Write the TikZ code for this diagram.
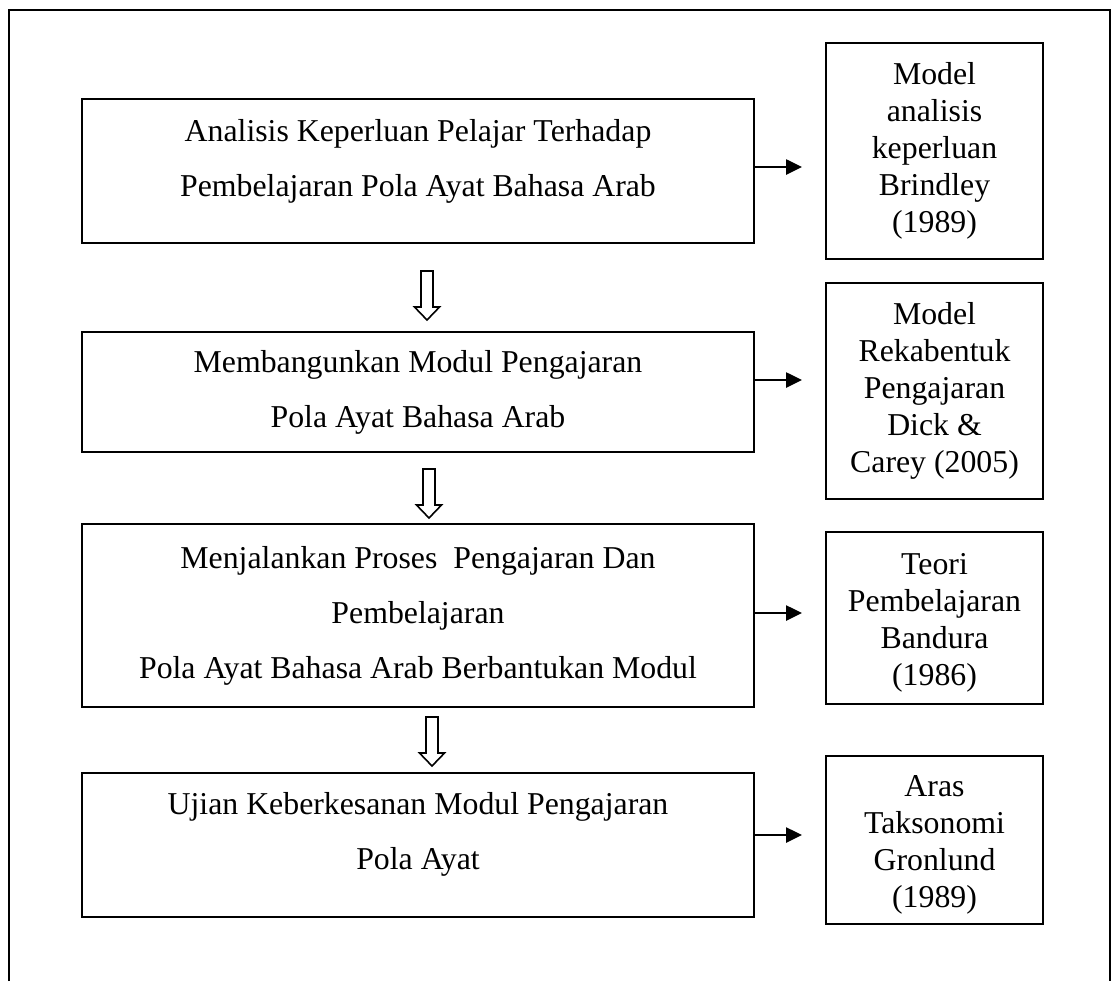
\documentclass[tikz,border=0pt]{standalone}
\usepackage{fontspec}
\setmainfont{Liberation Serif}
\usetikzlibrary{calc,arrows.meta}

\tikzset{
  stage/.style={draw,line width=1pt,minimum width=336pt,inner sep=0pt},
  stagetext/.style={align=center,inner sep=0pt,font=\fontsize{15.9}{27.5}\selectfont},
  theory/.style={draw,line width=1pt,minimum width=108.5pt,inner sep=0pt},
  theorytext/.style={align=center,inner sep=0pt,font=\fontsize{15.9}{18.5}\selectfont},
  feed/.style={line width=1.3pt,-{Triangle[length=8pt,width=7.5pt]}},
  hollow/.style={line width=0.8pt}
}

\begin{document}
\begin{tikzpicture}[x=0.5pt,y=-0.5pt]
    \useasboundingbox (0,0) rectangle (1112,981);
    % outer frame, open at the bottom
    \draw[line width=1.2pt] (9,981) -- (9,10) -- (1110,10) -- (1110,981);

    % stages of the study
    \node[stage,minimum height=72pt,label={[stagetext,yshift=5pt]center:{%
      Analisis Keperluan Pelajar Terhadap\\Pembelajaran Pola Ayat Bahasa Arab}}]
      (b1) at (418,171) {};
    \node[stage,minimum height=60pt,label={[stagetext]center:{%
      Membangunkan Modul Pengajaran\\Pola Ayat Bahasa Arab}}]
      (b2) at (418,392) {};
    \node[stage,minimum height=91.5pt,label={[stagetext]center:{%
      Menjalankan Proses\ \ Pengajaran Dan\\Pembelajaran\\Pola Ayat Bahasa Arab Berbantukan Modul}}]
      (b3) at (418,615.5) {};
    \node[stage,minimum height=72pt,label={[stagetext,yshift=5.5pt]center:{%
      Ujian Keberkesanan Modul Pengajaran\\Pola Ayat}}]
      (b4) at (418,845) {};

    % theories behind each stage
    \node[theory,minimum height=108pt,label={[theorytext]center:{%
      Model\\analisis\\keperluan\\Brindley\\(1989)}}] (r1) at (934.5,151) {};
    \node[theory,minimum height=108pt,label={[theorytext]center:{%
      Model\\Rekabentuk\\Pengajaran\\Dick \&\\Carey (2005)}}] (r2) at (934.5,391) {};
    \node[theory,minimum height=86pt,label={[theorytext,yshift=-2.5pt]center:{%
      Teori\\Pembelajaran\\Bandura\\(1986)}}] (r3) at (934.5,618) {};
    \node[theory,minimum height=84pt,label={[theorytext,yshift=-2.5pt]center:{%
      Aras\\Taksonomi\\Gronlund\\(1989)}}] (r4) at (934.5,840) {};

    \coordinate (a1) at (802,167);
    \coordinate (a2) at (802,380);
    \coordinate (a3) at (802,613);
    \coordinate (a4) at (802,835);
    \foreach \i in {1,...,4}{
      \draw[feed] (b\i.east |- a\i) -- (a\i);
    }

    % hollow arrows between the stages
    \foreach \xa/\ytop in {427/271,429/469,432/717}{
      \draw[hollow] (\xa-6,\ytop) -- (\xa-6,\ytop+36) -- (\xa-12.5,\ytop+36)
        -- (\xa,\ytop+49) -- (\xa+12.5,\ytop+36) -- (\xa+6,\ytop+36)
        -- (\xa+6,\ytop) -- cycle;
    }
\end{tikzpicture}
\end{document}
